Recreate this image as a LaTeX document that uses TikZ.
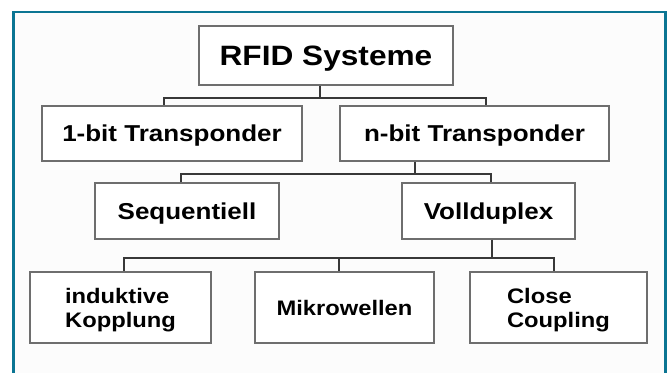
\documentclass[tikz,border=0pt]{standalone}
\usepackage{fontspec}
\newfontfamily\kastenfont[FakeStretch=1.13]{Liberation Sans}
\usepackage{tikz}
\definecolor{rahmenblau}{HTML}{0B7593}
\definecolor{kastengrau}{HTML}{6E6E6E}
\definecolor{liniengrau}{HTML}{383838}
\tikzset{
    %Define style for boxes
    kasten/.style={
           rectangle,
           draw=kastengrau, line width=1.2pt,
           fill=white,
           inner sep=0pt,
           text depth=0pt,
           text centered},
    % Define line style
    linie/.style={
           draw=liniengrau,
           line width=1.8pt}
}

\begin{document}
\begin{tikzpicture}[x=1pt,y=-1pt]
\useasboundingbox (0,0) rectangle (668,372);
% frame
\fill[white] (0,0) rectangle (668,372);
\draw[rahmenblau, line width=2.6pt, fill=black!1] (13.5,12) rectangle (665.5,390);
 %nodes
\node[kasten, minimum width=254pt, minimum height=59pt,
      font=\kastenfont\bfseries\fontsize{28}{32}\selectfont] (sys) at (326,55.5) {RFID Systeme};
\node[kasten, minimum width=260pt, minimum height=55pt,
      font=\kastenfont\bfseries\fontsize{23}{27}\selectfont] (one) at (172,133.5) {1-bit Transponder};
\node[kasten, minimum width=269pt, minimum height=55pt,
      font=\kastenfont\bfseries\fontsize{23}{27}\selectfont] (nbit) at (474.5,133.5) {n-bit Transponder};
\node[kasten, minimum width=184pt, minimum height=56pt,
      font=\kastenfont\bfseries\fontsize{23}{27}\selectfont] (seq) at (187,211) {Sequentiell};
\node[kasten, minimum width=173pt, minimum height=56pt,
      font=\kastenfont\bfseries\fontsize{23}{27}\selectfont] (voll) at (488.5,211) {Vollduplex};
\node[kasten, minimum width=181pt, minimum height=71pt, align=left,
      font=\kastenfont\bfseries\fontsize{21}{24}\selectfont] (ind) at (120.5,307.5) {induktive\\Kopplung};
\node[kasten, minimum width=179pt, minimum height=71pt,
      font=\kastenfont\bfseries\fontsize{21}{24}\selectfont] (mik) at (344.5,307.5) {Mikrowellen};
\node[kasten, minimum width=177pt, minimum height=71pt, align=left,
      font=\kastenfont\bfseries\fontsize{21}{24}\selectfont] (close) at (558.5,307.5) {Close\\Coupling};

 %connections
\draw[linie] ([xshift=-6pt]sys.south) -- ++(0,12) coordinate (j1);
\draw[linie] (j1) -| ([xshift=-8pt]one.north);
\draw[linie] (j1) -| ([xshift=11.5pt]nbit.north);

\draw[linie] ([xshift=-59.5pt]nbit.south) -- ++(0,12) coordinate (j2);
\draw[linie] (j2) -| ([xshift=-6pt]seq.north);
\draw[linie] (j2) -| ([xshift=2.5pt]voll.north);

\draw[linie] ([xshift=3.5pt]voll.south) -- ++(0,18) coordinate (j3);
\draw[linie] (j3) -| ([xshift=3.5pt]ind.north);
\draw[linie] (j3) -| ([xshift=-5.5pt]mik.north);
\draw[linie] (j3) -| ([xshift=-4.5pt]close.north);

\end{tikzpicture}
\end{document}
